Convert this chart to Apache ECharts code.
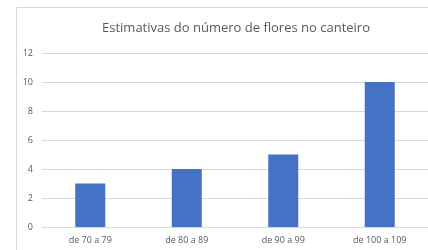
<!DOCTYPE html>
<html>
<head>
<meta charset="utf-8">
<script src="https://cdn.jsdelivr.net/npm/echarts@6/dist/echarts.min.js"></script>
<style>
html, body { margin: 0; padding: 0; background: #fff; }
#main { width: 428px; height: 250px; }
</style>
</head>
<body>
<div id="main"></div>
<script>
// dados do gráfico
var categorias = ['de 70 a 79', 'de 80 a 89', 'de 90 a 99', 'de 100 a 109'];
var valores = [3, 4, 5, 10];
var titulo = 'Estimativas do número de flores no canteiro';

var myChart = echarts.init(document.getElementById('main'));

var option = {
	backgroundColor: '#fff',
	animation: false,
	title: {
		text: titulo,
		left: 231,
		top: 17,
		textAlign: 'center',
		textStyle: {
			fontFamily: 'Open Sans',
			fontSize: 13,
			fontWeight: 'normal',
			color: '#595959'
		}
	},
	graphic: [{
		type: 'rect',
		shape: { x: 16.5, y: 7.5, width: 500, height: 300 },
		style: { fill: 'none', stroke: '#d9d9d9', lineWidth: 1 },
		silent: true
	}],
	grid: {
		left: 42,
		top: 53,
		width: 391,
		height: 174
	},
	xAxis: {
		type: 'category',
		data: categorias,
		axisTick: { show: false },
		axisLine: { lineStyle: { color: '#d9d9d9' } },
		axisLabel: {
			margin: 9,
			fontSize: 9,
			fontFamily: 'Open Sans',
			color: '#595959'
		}
	},
	yAxis: {
		type: 'value',
		min: 0,
		max: 12,
		interval: 2,
		axisLine: { show: false },
		axisTick: { show: false },
		splitLine: { lineStyle: { color: '#d9d9d9' } },
		axisLabel: {
			margin: 9,
			fontSize: 9,
			fontFamily: 'Open Sans',
			color: '#595959'
		}
	},
	series: [{
		type: 'bar',
		data: valores,
		barWidth: 30,
		itemStyle: { color: '#4472C4' }
	}]
};

myChart.setOption(option);
</script>
</body>
</html>
